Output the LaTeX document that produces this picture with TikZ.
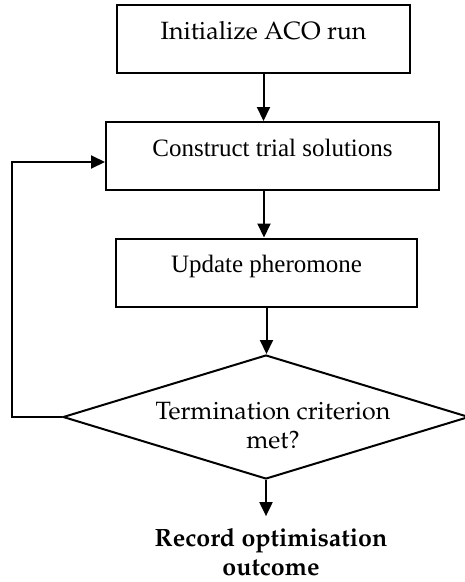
\documentclass[tikz,border=0pt]{standalone}
\usepackage[T1]{fontenc}
\usepackage{fontspec}
\setmainfont{Liberation Serif}
\usetikzlibrary{arrows.meta,shapes.geometric}
% Palatino-style face (URW Palladio, Type 1) for part of the labels
\newcommand\palfont{\fontencoding{T1}\fontfamily{ppl}\selectfont}
\tikzset{
  boxnode/.style={draw, line width=2pt, inner xsep=0pt, inner ysep=0pt,
    text height=34pt, text depth=34pt},
  decnode/.style={draw, diamond, line width=2pt, inner sep=0pt,
    minimum width=406pt, minimum height=124pt},
  txtsize/.style={font=\fontsize{25}{29}\selectfont},
  arr/.style={line width=2pt, -{Triangle[length=14pt,width=13pt]}}
}
\begin{document}
\begin{tikzpicture}[x=1pt,y=-1pt]
  \useasboundingbox (0,0) rectangle (464,582);

  \node[boxnode, minimum width=293pt, font=\fontsize{25}{29}\palfont] (init) at (263.5,39) {Initialize ACO run};
  \node[boxnode, minimum width=333pt, txtsize] (con) at (272.5,156) {Construct trial solutions};
  \node[boxnode, minimum width=301pt, txtsize] (upd) at (266.5,272.5) {Update pheromone};
  \node[decnode] (dec) at (266,417) {};
  \node[align=center, font=\fontsize{25}{29}\palfont] (dectext) at (273,426) {Termination criterion\\met?};
  \node[align=center, inner sep=12pt, font=\fontsize{25}{29}\palfont\bfseries] (res) at (271,552) {Record optimisation\\outcome};

  \coordinate (loop) at (12,162);

  \draw[arr] (init.south) -- (init.south |- con.north);
  \draw[arr] ([xshift=-8.5pt]con.south) -- ([xshift=-8.5pt]con.south |- upd.north);
  \draw[arr] (upd.south) -- (upd.south |- dec.north);
  \draw[arr] (dec.south) -- (dec.south |- res.north);
  \draw[arr] (dec.west) -- (dec.west -| loop) -- (loop) -- (loop -| con.west);
\end{tikzpicture}
\end{document}
